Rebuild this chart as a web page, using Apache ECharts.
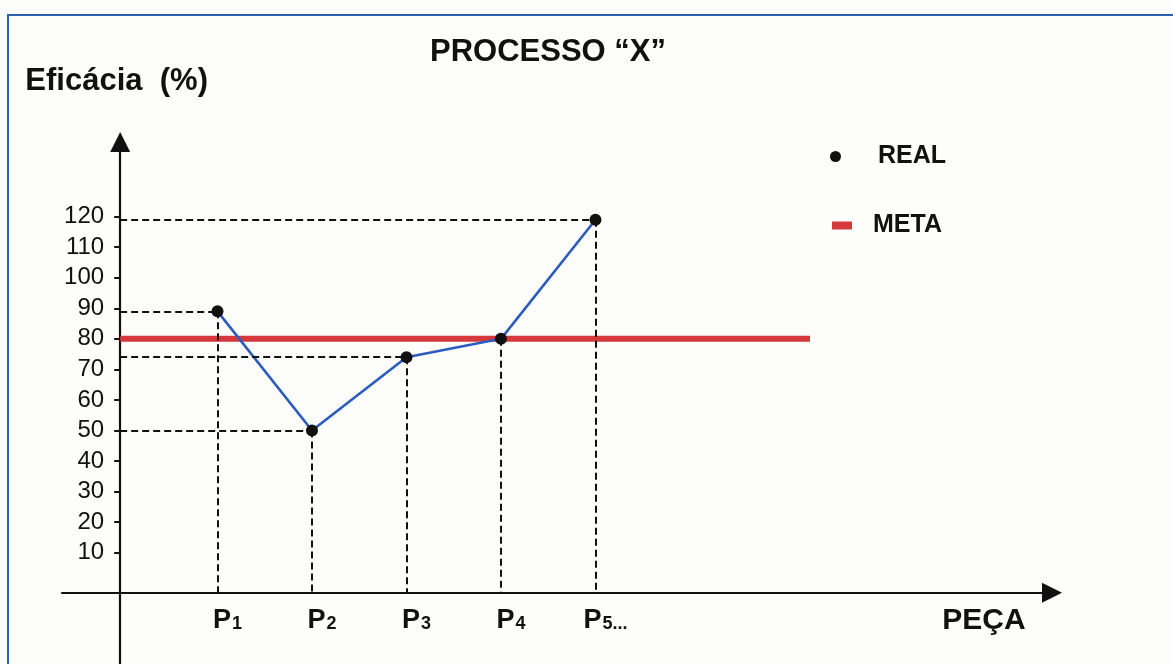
<!DOCTYPE html>
<html>
<head>
<meta charset="utf-8">
<title>PROCESSO “X”</title>
<script src="https://cdn.jsdelivr.net/npm/echarts@6/dist/echarts.min.js"></script>
<style>
  html, body { margin: 0; padding: 0; background: #fdfdfb; }
  #chart { width: 1173px; height: 664px; }
</style>
</head>
<body>
<div id="chart"></div>
<script>
// Pieces along the horizontal axis
const pieceLabels = ['P1', 'P2', 'P3', 'P4', 'P5...'];
const piecePositions = [1, 2, 3, 4, 5];
// Measured efficacy per piece (%)
const realValues = [89, 50, 74, 80, 119];
// Target efficacy and the stretch of the target line along the x scale
const metaValue = 80;
const metaSpan = [-0.03, 7.27];
// Tick values on the efficacy axis
const yTickValues = [10, 20, 30, 40, 50, 60, 70, 80, 90, 100, 110, 120];

// Axis extents and where the two axes cross each other
const yExtent = [-26.45, 144.44];
const xExtent = [-0.6455, 9.831];
const xAxisLevel = -3.1;   // efficacy value at which the horizontal axis runs
const yAxisLevel = -0.03;  // piece value at which the vertical axis runs

const gridBox = { left: 62, right: 121, top: 142, bottom: 0 };
const W = 1173, H = 664;
const gridW = W - gridBox.left - gridBox.right;
const gridH = H - gridBox.top - gridBox.bottom;
const yAxisOffset = -(yAxisLevel - xExtent[0]) / (xExtent[1] - xExtent[0]) * gridW;
const xAxisOffset = -(xAxisLevel - yExtent[0]) / (yExtent[1] - yExtent[0]) * gridH;

const FONT = '"Liberation Sans", Arial, sans-serif';
const INK = '#111111';

// Dashed guides from each point to both axes
const guides = [];
piecePositions.forEach((x, i) => {
  const v = realValues[i];
  if (v !== metaValue) {
    guides.push([{ coord: [yAxisLevel, v] }, { coord: [x, v] }]);
  }
  guides.push([{ coord: [x, v] }, { coord: [x, xAxisLevel] }]);
});

const chart = echarts.init(document.getElementById('chart'), null, { renderer: 'canvas' });

chart.setOption({
  backgroundColor: '#fdfdfb',
  animation: false,
  title: {
    text: 'PROCESSO “X”',
    left: 430,
    top: 37,
    padding: 0,
    textStyle: { fontFamily: FONT, fontSize: 31, fontWeight: 'bold', color: INK }
  },
  legend: [
    {
      data: [{ name: 'REAL', icon: 'circle' }],
      left: 830, top: 144,
      itemWidth: 11, itemHeight: 11,
      padding: 0,
      textStyle: { fontFamily: FONT, fontSize: 25, fontWeight: 'bold', color: INK, padding: [0, 0, 0, 32] },
      selectedMode: false
    },
    {
      data: [{ name: 'META', icon: 'rect' }],
      left: 832, top: 213,
      itemWidth: 20, itemHeight: 8,
      padding: 0,
      textStyle: { fontFamily: FONT, fontSize: 25, fontWeight: 'bold', color: INK, padding: [6, 0, 0, 16] },
      selectedMode: false
    }
  ],
  graphic: [{
    type: 'rect',
    z: -10,
    silent: true,
    shape: { x: 8, y: 15, width: 1400, height: 900 },
    style: { fill: 'none', stroke: '#2f5fae', lineWidth: 2 }
  }],
  grid: {
    left: gridBox.left, right: gridBox.right, top: gridBox.top, bottom: gridBox.bottom,
    outerBoundsMode: 'none'
  },
  xAxis: {
    type: 'value',
    min: xExtent[0],
    max: xExtent[1],
    position: 'bottom',
    offset: xAxisOffset,
    splitLine: { show: false },
    axisLine: {
      onZero: false,
      lineStyle: { color: INK, width: 2.2 },
      symbol: ['none', 'triangle'],
      symbolSize: [20, 20]
    },
    axisTick: { show: false },
    axisLabel: {
      customValues: piecePositions,
      margin: 12,
      padding: [0, 0, 0, 20],
      formatter: (val) => {
        const lab = pieceLabels[piecePositions.indexOf(val)] || '';
        return '{p|' + lab.charAt(0) + '}{s|' + lab.slice(1) + '}';
      },
      rich: {
        p: { fontFamily: FONT, fontSize: 27, fontWeight: 'bold', color: INK, lineHeight: 29, verticalAlign: 'bottom' },
        s: { fontFamily: FONT, fontSize: 18, fontWeight: 'bold', color: INK, lineHeight: 19, verticalAlign: 'bottom', padding: [0, 0, 1, 1] }
      }
    },
    name: 'PEÇA',
    nameLocation: 'end',
    nameGap: -68,
    nameTextStyle: {
      fontFamily: FONT, fontSize: 30, fontWeight: 'bold', color: INK,
      align: 'center', verticalAlign: 'top', padding: [13, 0, 0, 0]
    }
  },
  yAxis: {
    type: 'value',
    min: yExtent[0],
    max: yExtent[1],
    position: 'left',
    offset: yAxisOffset,
    splitLine: { show: false },
    axisLine: {
      onZero: false,
      lineStyle: { color: INK, width: 2.2 },
      symbol: ['none', 'triangle'],
      symbolSize: [20, 20]
    },
    axisTick: {
      customValues: yTickValues,
      length: 6,
      lineStyle: { color: INK, width: 2 }
    },
    axisLabel: {
      customValues: yTickValues,
      margin: 16,
      fontFamily: FONT, fontSize: 24, color: INK
    },
    name: 'Eficácia  (%)',
    nameLocation: 'end',
    nameGap: 45,
    nameTextStyle: {
      fontFamily: FONT, fontSize: 31, fontWeight: 'bold', color: INK,
      padding: [0, 7, 0, 0]
    }
  },
  series: [
    {
      name: 'guias',
      type: 'line',
      data: [],
      z: 1,
      silent: true,
      markLine: {
        silent: true,
        symbol: ['none', 'none'],
        label: { show: false },
        lineStyle: { color: INK, width: 2, type: [7, 4] },
        emphasis: { disabled: true },
        data: guides
      }
    },
    {
      name: 'META',
      type: 'line',
      z: 2,
      silent: true,
      showSymbol: false,
      symbol: 'none',
      color: '#d6393b',
      lineStyle: { color: '#d6393b', width: 6 },
      itemStyle: { color: '#d6393b' },
      data: [[metaSpan[0], metaValue], [metaSpan[1], metaValue]]
    },
    {
      name: 'REAL',
      type: 'line',
      z: 3,
      symbol: 'circle',
      symbolSize: 12,
      color: '#111111',
      itemStyle: { color: '#111111' },
      lineStyle: { color: '#2a5cbd', width: 2.6 },
      data: piecePositions.map((x, i) => [x, realValues[i]])
    }
  ]
});
</script>
</body>
</html>
